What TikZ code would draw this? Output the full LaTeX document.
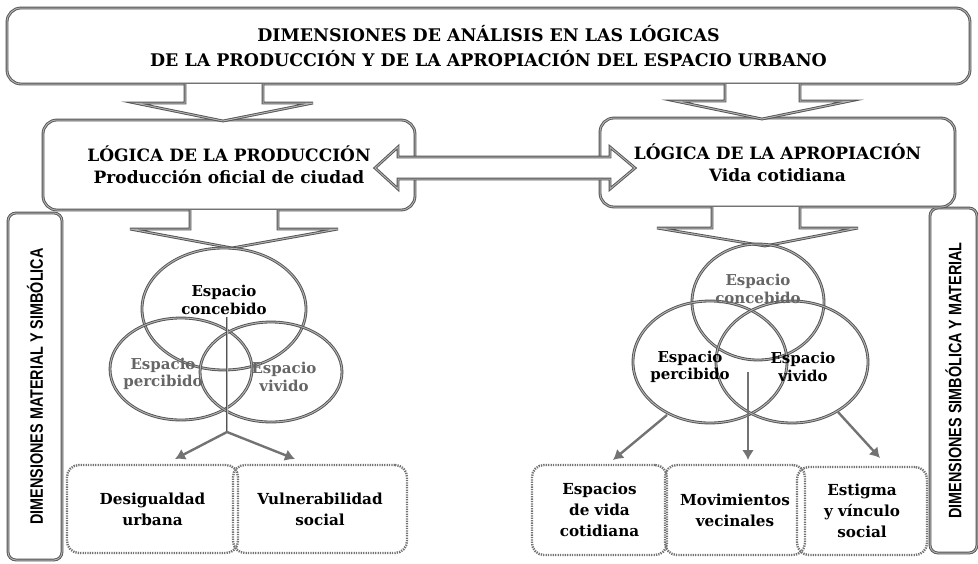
\documentclass[tikz,border=0pt]{standalone}
\usepackage{fontspec}
\setmainfont{DejaVu Serif}
\newfontfamily\sidefont[FakeStretch=0.8]{Liberation Sans Bold}
\usepackage{tikz}
\usetikzlibrary{shapes.geometric,arrows.meta}

\begin{document}
\begin{tikzpicture}[x=1pt,y=-1pt,
  dbl/.style={draw=black!68, double=black!30, double distance=1pt, line width=0.9pt},
  bigbox/.style={dbl, rounded corners=14pt, fill=white, align=center, inner sep=0pt},
  sidebox/.style={dbl, rounded corners=8pt, fill=white, inner sep=0pt, font=\sidefont\fontsize{18}{20}\selectfont},
  dotbox/.style={draw=black!55, line width=2.4pt, dash pattern=on 1.3pt off 1.1pt, rounded corners=12pt, align=center, inner sep=0pt, font=\bfseries\fontsize{15.2}{21}\selectfont},
  venn/.style={ellipse, dbl, inner sep=0pt},
  vtxt/.style={align=center, inner sep=0pt, font=\bfseries\fontsize{15}{17.5}\selectfont},
  conn/.style={draw=black!55, line width=2.4pt, -{Latex[length=10pt,width=12pt]}}]
\useasboundingbox (0,0) rectangle (978,563);

\node[bigbox, minimum width=963pt, minimum height=76pt, font=\bfseries\fontsize{17.4}{25}\selectfont] (dims) at (488.5,46)
  {DIMENSIONES DE ANÁLISIS EN LAS LÓGICAS\\DE LA PRODUCCIÓN Y DE LA APROPIACIÓN DEL ESPACIO URBANO};

\node[sidebox, rotate=90, minimum width=347pt, minimum height=54pt] (lside) at (35,386.5) {DIMENSIONES MATERIAL Y SIMBÓLICA};
\node[sidebox, rotate=90, minimum width=345pt, minimum height=47pt] (rside) at (953.5,380.5) {DIMENSIONES SIMBÓLICA Y MATERIAL};

\node[bigbox, minimum width=372pt, minimum height=90pt, font=\bfseries\fontsize{17}{22}\selectfont] (prod) at (229,165)
  {LÓGICA DE LA PRODUCCIÓN\\Producción oficial de ciudad};
\node[bigbox, minimum width=355pt, minimum height=89pt, font=\bfseries\fontsize{17}{22}\selectfont] (apro) at (777.5,162.5)
  {LÓGICA DE LA APROPIACIÓN\\Vida cotidiana};

\draw[dbl, fill=white] (185,84) -- (185,103) -- (135,103) -- (223,121) -- (313,103) -- (263,103) -- (263,84);
\draw[dbl, fill=white] (725,84) -- (725,101) -- (675,101) -- (762,119) -- (850,101) -- (800,101) -- (800,84);
\draw[dbl, fill=white] (375,168) -- (398,147) -- (398,157) -- (610,157) -- (610,147) -- (635,168) -- (610,189) -- (610,179) -- (398,179) -- (398,189) -- cycle;
\draw[dbl, fill=white] (190,210) -- (190,229) -- (130,229) -- (232,248) -- (338,229) -- (278,229) -- (278,210);
\draw[dbl, fill=white] (712,207) -- (712,228) -- (657,228) -- (765,246) -- (858,228) -- (800,228) -- (800,207);

\node[venn, minimum width=164pt, minimum height=122pt] (lconc) at (224,309) {};
\node[venn, minimum width=142pt, minimum height=102pt] (lperc) at (181,369) {};
\node[venn, minimum width=142pt, minimum height=100pt] (lviv) at (271,372) {};
\node[vtxt] at (224,300) {Espacio\\concebido};
\node[vtxt, text=black!60] at (163,374) {Espacio\\percibido};
\node[vtxt, text=black!60] at (284,377) {Espacio\\vivido};

\node[venn, minimum width=132pt, minimum height=116pt] (rconc) at (758,302) {};
\node[venn, minimum width=154pt, minimum height=122pt] (rperc) at (710,362) {};
\node[venn, minimum width=152pt, minimum height=122pt] (rviv) at (792,362) {};
\node[vtxt, text=black!60] at (758,289) {Espacio\\concebido};
\node[vtxt] at (690,367) {Espacio\\percibido};
\node[vtxt] at (803,367) {Espacio\\vivido};

\node[dotbox, minimum width=171pt, minimum height=88pt] (desig) at (152.5,509) {Desigualdad\\urbana};
\node[dotbox, minimum width=174pt, minimum height=88pt] (vuln) at (320,509) {Vulnerabilidad\\social};
\node[dotbox, minimum width=135pt, minimum height=90pt] (evida) at (599.5,510) {Espacios\\de vida\\cotidiana};
\node[dotbox, minimum width=140pt, minimum height=90pt] (movi) at (735,510) {Movimientos\\vecinales};
\node[dotbox, minimum width=130pt, minimum height=88pt] (estig) at (862,511) {Estigma\\y vínculo\\social};

\coordinate (lstem) at (227,317);
\coordinate (lfork) at (227,432);
\coordinate (ldesig) at (175,459);
\coordinate (lvuln) at (295,459);
\draw[dbl, line width=0.9pt] (lstem) -- (lfork);
\draw[conn] (lfork) -- (ldesig);
\draw[conn] (lfork) -- (lvuln);

\coordinate (rpercout) at (667,415);
\coordinate (rmid) at (748,372);
\coordinate (rvivout) at (838,412);
\coordinate (revida) at (613,460);
\coordinate (rmovi) at (748,460);
\coordinate (restig) at (880,458);
\draw[conn] (rpercout) -- (revida);
\draw[conn] (rmid) -- (rmovi);
\draw[conn] (rvivout) -- (restig);
\end{tikzpicture}
\end{document}
